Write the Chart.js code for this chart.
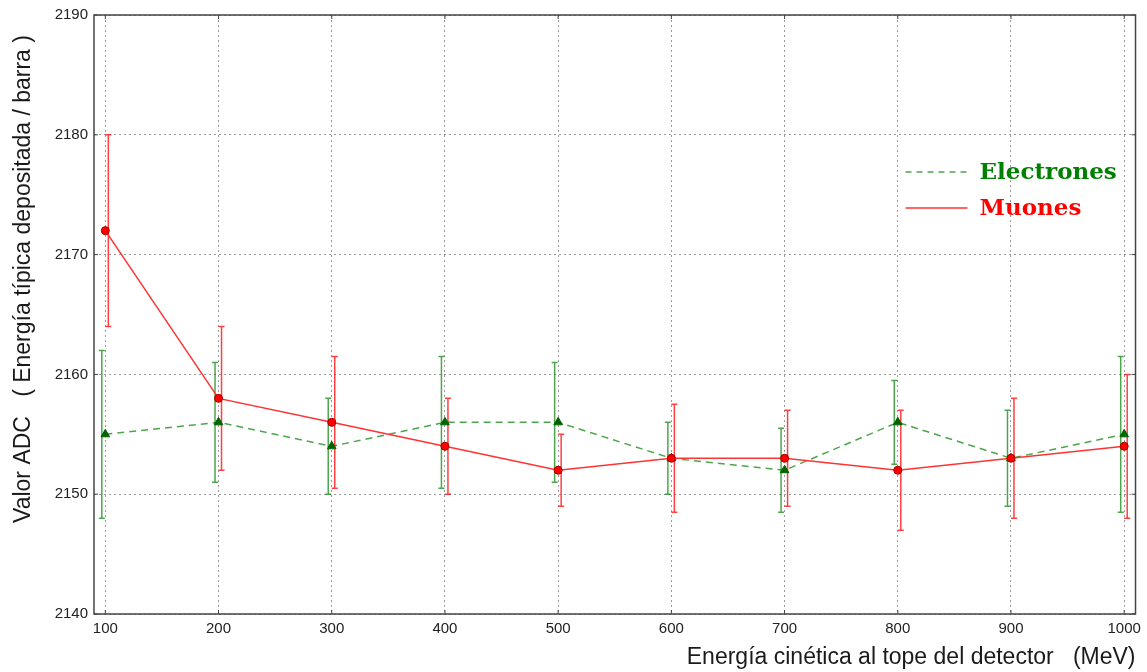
<!DOCTYPE html>
<html lang="es">
<head>
    <meta charset="UTF-8">
    <title>Valor ADC vs Energía cinética</title>
    <script src="https://cdn.jsdelivr.net/npm/chart.js"></script>
    <style>
        * { margin: 0; padding: 0; box-sizing: border-box; }
        body { background: #ffffff; width: 1147px; height: 672px; overflow: hidden; }
        .wrap { position: relative; width: 1147px; height: 672px; }
    </style>
</head>
<body>
    <div class="wrap">
        <canvas id="adcChart" width="1147" height="672"></canvas>
    </div>

    <script>
        // Energía cinética (MeV)
        const energias = [100, 200, 300, 400, 500, 600, 700, 800, 900, 1000];

        // Electrones: valor y barras de error
        const electronesValor = [2155, 2156, 2154, 2156, 2156, 2153, 2152, 2156, 2153, 2155];
        const electronesMin   = [2148, 2151, 2150, 2150.5, 2151, 2150, 2148.5, 2152.5, 2149, 2148.5];
        const electronesMax   = [2162, 2161, 2158, 2161.5, 2161, 2156, 2155.5, 2159.5, 2157, 2161.5];

        // Muones: valor y barras de error
        const muonesValor = [2172, 2158, 2156, 2154, 2152, 2153, 2153, 2152, 2153, 2154];
        const muonesMin   = [2164, 2152, 2150.5, 2150, 2149, 2148.5, 2149, 2147, 2148, 2148];
        const muonesMax   = [2180, 2164, 2161.5, 2158, 2155, 2157.5, 2157, 2157, 2158, 2160];

        const yTicks = [2140, 2150, 2160, 2170, 2180, 2190];

        const toPoints = (xs, ys) => xs.map((x, i) => ({ x: x, y: ys[i] }));

        // barras de error (verticales con remates)
        const errorBars = {
            id: 'errorBars',
            beforeDatasetsDraw(chart) {
                const { ctx, scales: { x, y } } = chart;
                chart.data.datasets.forEach(ds => {
                    if (!ds.errMin) return;
                    ctx.save();
                    ctx.strokeStyle = ds.errColor;
                    ctx.lineWidth = 1.5;
                    ds.data.forEach((p, i) => {
                        const px = x.getPixelForValue(p.x) + ds.errShift;
                        const y1 = y.getPixelForValue(ds.errMin[i]);
                        const y2 = y.getPixelForValue(ds.errMax[i]);
                        ctx.beginPath();
                        ctx.moveTo(px, y1); ctx.lineTo(px, y2);
                        ctx.moveTo(px - 3, y1); ctx.lineTo(px + 3, y1);
                        ctx.moveTo(px - 3, y2); ctx.lineTo(px + 3, y2);
                        ctx.stroke();
                    });
                    ctx.restore();
                });
            }
        };

        // marco completo y marcas de los ejes hacia dentro
        const frame = {
            id: 'frame',
            afterDraw(chart) {
                const { ctx, chartArea: a, scales: { x, y } } = chart;
                ctx.save();
                ctx.strokeStyle = '#444';
                ctx.lineWidth = 1.5;
                ctx.strokeRect(a.left, a.top, a.right - a.left, a.bottom - a.top);
                ctx.lineWidth = 1;
                ctx.beginPath();
                x.ticks.forEach(t => {
                    const px = x.getPixelForValue(t.value);
                    ctx.moveTo(px, a.bottom); ctx.lineTo(px, a.bottom - 4);
                    ctx.moveTo(px, a.top); ctx.lineTo(px, a.top + 4);
                });
                y.ticks.forEach(t => {
                    const py = y.getPixelForValue(t.value);
                    ctx.moveTo(a.left, py); ctx.lineTo(a.left + 4, py);
                    ctx.moveTo(a.right, py); ctx.lineTo(a.right - 4, py);
                });
                ctx.stroke();

                // título del eje Y
                ctx.translate(24, 279);
                ctx.rotate(-Math.PI / 2);
                ctx.fillStyle = '#1a1a1a';
                ctx.font = '23px "Liberation Sans", Arial, sans-serif';
                ctx.textAlign = 'center';
                ctx.textBaseline = 'middle';
                ctx.fillText('Valor ADC   ( Energía típica depositada / barra )', 0, 0);
                ctx.restore();

                // leyenda
                ctx.save();
                const lx = a.right - 230;
                const rows = [
                    { label: 'Electrones', color: '#008000', line: 'rgba(0,128,0,0.7)', dash: [6, 5], y: a.top + 157 },
                    { label: 'Muones', color: '#ff0000', line: '#ff3333', dash: [], y: a.top + 193 }
                ];
                rows.forEach(r => {
                    ctx.strokeStyle = r.line;
                    ctx.lineWidth = 1.5;
                    ctx.setLineDash(r.dash);
                    ctx.beginPath();
                    ctx.moveTo(lx, r.y); ctx.lineTo(lx + 62, r.y);
                    ctx.stroke();
                    ctx.setLineDash([]);
                    ctx.fillStyle = r.color;
                    ctx.font = 'bold 23px "DejaVu Serif", serif';
                    ctx.textAlign = 'left';
                    ctx.textBaseline = 'middle';
                    ctx.fillText(r.label, lx + 74, r.y + 1);
                });
                ctx.restore();
            }
        };

        const tickFont = { family: '"Liberation Sans", Arial, sans-serif', size: 15 };

        const ctx = document.getElementById('adcChart').getContext('2d');
        new Chart(ctx, {
            type: 'line',
            data: {
                datasets: [{
                    label: 'Electrones',
                    data: toPoints(energias, electronesValor),
                    errMin: electronesMin,
                    errMax: electronesMax,
                    errColor: 'rgba(0,128,0,0.7)',
                    errShift: -3.5,
                    borderColor: 'rgba(0,128,0,0.7)',
                    borderWidth: 1.5,
                    borderDash: [7, 5],
                    pointStyle: 'triangle',
                    pointRadius: 5,
                    pointBackgroundColor: '#006400',
                    pointBorderColor: '#006400',
                    pointBorderWidth: 1,
                    tension: 0,
                    order: 1
                }, {
                    label: 'Muones',
                    data: toPoints(energias, muonesValor),
                    errMin: muonesMin,
                    errMax: muonesMax,
                    errColor: 'rgba(255,0,0,0.75)',
                    errShift: 3,
                    borderColor: '#ff3333',
                    borderWidth: 1.5,
                    pointStyle: 'circle',
                    pointRadius: 4,
                    pointBackgroundColor: '#ff0000',
                    pointBorderColor: '#a00000',
                    pointBorderWidth: 1,
                    tension: 0,
                    order: 0
                }]
            },
            options: {
                responsive: false,
                animation: false,
                layout: { padding: { top: 13, right: 11, left: 0, bottom: 0 } },
                plugins: {
                    legend: { display: false },
                    tooltip: { enabled: false }
                },
                scales: {
                    x: {
                        type: 'linear',
                        min: 90,
                        max: 1010,
                        afterBuildTicks: s => { s.ticks = energias.map(v => ({ value: v })); },
                        afterFit: s => { s.height = 58; },
                        grid: { color: '#9a9a9a', lineWidth: 1, drawTicks: false },
                        border: { display: false, dash: [2, 3] },
                        ticks: {
                            padding: 6,
                            color: '#222',
                            font: tickFont,
                            callback: v => String(v)
                        },
                        title: {
                            display: true,
                            text: 'Energía cinética al tope del detector   (MeV)',
                            align: 'end',
                            color: '#1a1a1a',
                            padding: { top: 0, bottom: 1 },
                            font: { family: '"Liberation Sans", Arial, sans-serif', size: 23 }
                        }
                    },
                    y: {
                        min: 2140,
                        max: 2190,
                        afterBuildTicks: s => { s.ticks = yTicks.map(v => ({ value: v })); },
                        afterFit: s => { s.width = 94; },
                        grid: { color: '#9a9a9a', lineWidth: 1, drawTicks: false },
                        border: { display: false, dash: [2, 3] },
                        ticks: {
                            padding: 6,
                            color: '#222',
                            font: tickFont,
                            callback: v => String(v)
                        }
                    }
                }
            },
            plugins: [errorBars, frame]
        });
    </script>
</body>
</html>
